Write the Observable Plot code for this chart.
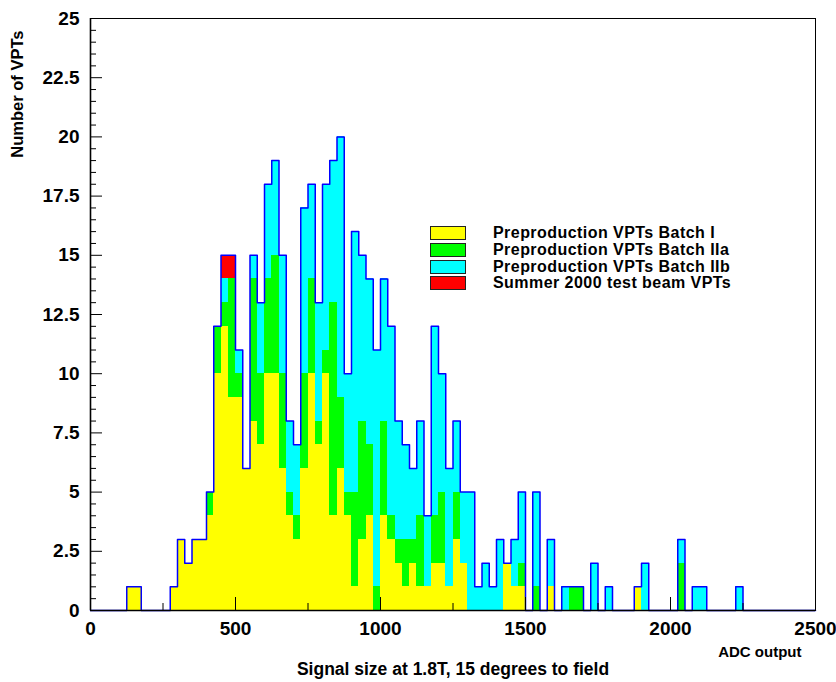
<!DOCTYPE html>
<html>
<head>
<meta charset="utf-8">
<script src="https://cdn.jsdelivr.net/npm/d3@7"></script>
<script src="https://cdn.jsdelivr.net/npm/@observablehq/plot@0.6"></script>
<style>
  body { margin: 0; background: #fff; }
  #chart { position: relative; width: 836px; height: 682px; font-family: "Liberation Sans", Arial, Helvetica, sans-serif; }
  #legend { position: absolute; left: 430px; top: 225px; }
  .row { display: flex; align-items: center; height: 16.7px; }
  .sw { width: 36px; height: 14px; box-sizing: border-box; border: 1px solid #222; }
  .lab { margin-left: 27px; font-weight: bold; font-size: 16px; letter-spacing: 0.45px; line-height: 16px; height: 16px; color: #000; white-space: nowrap; }
</style>
</head>
<body>
<div id="chart"><div id="legend"></div></div>
<script>
// Histogram binning: 100 bins of 25 ADC counts from 0 to 2500
const adcMin = 0;
const adcMax = 2500;
const binWidth = 25;

// Counts per bin for each VPT sample (stacked bottom to top)
const batchI = [
  0,0,0,0,0, 1,1,0,0,0, 0,1,3,2,3, 3,4,10,12,9,
  9,6,8,7,10, 10,6,4,3,6, 10,7,10,4,6, 4,1,3,4,0,
  4,3,2,1,2, 1,1,2,2,1, 3,2,0,0,0, 0,0,2,1,1,
  0,0,0,1,0, 0,0,0,0,0, 0,0,0,0,0, 1,0,0,0,0,
  0,0,0,0,0, 0,0,0,0,0, 0,0,0,0,0, 0,0,0,0,0
];
const batchIIa = [
  0,0,0,0,0, 0,0,0,0,0, 0,0,0,0,0, 0,1,2,1,5,
  1,0,6,3,4, 5,4,1,1,4, 4,1,1,9,3, 1,4,5,3,1,
  4,1,1,2,1, 3,0,2,3,0, 2,0,0,0,0, 0,0,0,0,1,
  0,1,0,0,0, 0,1,1,0,0, 0,0,0,0,0, 0,0,0,0,0,
  0,2,0,0,0, 0,0,0,0,0, 0,0,0,0,0, 0,0,0,0,0
];
const batchIIb = [
  0,0,0,0,0, 0,0,0,0,0, 0,0,0,0,0, 0,0,0,1,0,
  1,0,1,3,4, 4,5,3,3,7, 4,5,7,6,11, 5,11,7,7,10,
  6,8,5,4,3, 4,3,8,5,5, 3,3,5,1,2, 1,3,0,2,3,
  0,4,0,2,0, 1,0,0,0,2, 0,1,0,0,0, 0,2,0,0,0,
  0,1,0,1,1, 0,0,0,0,1, 0,0,0,0,0, 0,0,0,0,0
];
const summer2000 = [
  0,0,0,0,0, 0,0,0,0,0, 0,0,0,0,0, 0,0,0,1,1,
  0,0,0,0,0, 0,0,0,0,0, 0,0,0,0,0, 0,0,0,0,0,
  0,0,0,0,0, 0,0,0,0,0, 0,0,0,0,0, 0,0,0,0,0,
  0,0,0,0,0, 0,0,0,0,0, 0,0,0,0,0, 0,0,0,0,0,
  0,0,0,0,0, 0,0,0,0,0, 0,0,0,0,0, 0,0,0,0,0
];

const seriesNames = [
  "Preproduction VPTs Batch I",
  "Preproduction VPTs Batch IIa",
  "Preproduction VPTs Batch IIb",
  "Summer 2000 test beam VPTs"
];
const seriesColors = ["#ffff00", "#00ff00", "#00ffff", "#ff0000"];
const seriesCounts = [batchI, batchIIa, batchIIb, summer2000];

// Axis ticks and titles
const xMajorTicks = [0, 500, 1000, 1500, 2000, 2500];
const xMinorTicks = [250, 750, 1250, 1750, 2250];
const yMajorTicks = [0, 2.5, 5, 7.5, 10, 12.5, 15, 17.5, 20, 22.5, 25];
const yMinorTicks = d3.range(0, 25.01, 0.5).filter(v => !yMajorTicks.includes(v));
const xTitle = "Signal size at 1.8T, 15 degrees to field";
const xUnitLabel = "ADC output";
const yTitle = "Number of VPTs";

// Build stacked rectangles per bin
const binLow = batchI.map((_, i) => adcMin + i * binWidth);
const stacked = [];
const totals = [];
binLow.forEach((lo, i) => {
  let cum = 0;
  seriesCounts.forEach((counts, s) => {
    const v = counts[i];
    if (v > 0) stacked.push({x1: lo, x2: lo + binWidth, y1: cum, y2: cum + v, series: seriesNames[s]});
    cum += v;
  });
  totals.push(cum);
});

// Outline of the summed histogram (step curve)
const outline = binLow.map((lo, i) => ({x: lo, y: totals[i]}));
outline.push({x: adcMax, y: totals[totals.length - 1]});

const font = "Liberation Sans, Arial, Helvetica, sans-serif";

const plot = Plot.plot({
  width: 836,
  height: 682,
  marginLeft: 90,
  marginRight: 21,
  marginTop: 18,
  marginBottom: 72,
  style: {fontFamily: font, fontWeight: "bold", background: "#fff", overflow: "visible"},
  x: {domain: [adcMin, adcMax]},
  y: {domain: [0, 25]},
  color: {domain: seriesNames, range: seriesColors},
  marks: [
    Plot.rect(stacked, {x1: "x1", x2: "x2", y1: "y1", y2: "y2", fill: "series", shapeRendering: "crispEdges"}),
    Plot.line(outline, {x: "x", y: "y", curve: "step-after", stroke: "#0000ff", strokeWidth: 1.5}),
    Plot.frame({stroke: "#000", strokeWidth: 1}),
    Plot.ruleX([adcMin], {stroke: "#000", strokeWidth: 1.6}),
    Plot.ruleY([0], {stroke: "#000", strokeWidth: 1.6}),
    Plot.axisY(yMajorTicks, {tickSize: -12, tickPadding: 23, tickFormat: d => String(d), fontSize: 19, fontWeight: "bold", label: null}),
    Plot.axisY(yMinorTicks, {tickSize: -6, tickFormat: () => "", label: null}),
    Plot.axisX(xMajorTicks, {tickSize: -13, tickPadding: 24, tickFormat: d => String(d), fontSize: 19, fontWeight: "bold", label: null}),
    Plot.axisX(xMinorTicks, {tickSize: -7, tickFormat: () => "", label: null}),
    Plot.text([yTitle], {frameAnchor: "top-left", text: d => d, rotate: -90, textAnchor: "end", dx: -79, dy: 12, fontSize: 16.5, fontWeight: "bold", fill: "#000"}),
    Plot.text([xUnitLabel], {frameAnchor: "bottom-right", text: d => d, textAnchor: "end", dx: -14, dy: 46, fontSize: 15, fontWeight: "bold", fill: "#000"}),
    Plot.text([xTitle], {frameAnchor: "bottom", text: d => d, dy: 64, fontSize: 17.5, fontWeight: "bold", fill: "#000"})
  ]
});

const chart = document.getElementById("chart");
chart.insertBefore(plot, chart.firstChild);

// Legend box
const legend = document.getElementById("legend");
seriesNames.forEach((name, i) => {
  const row = document.createElement("div");
  row.className = "row";
  const sw = document.createElement("div");
  sw.className = "sw";
  sw.style.background = seriesColors[i];
  const lab = document.createElement("div");
  lab.className = "lab";
  lab.textContent = name;
  row.appendChild(sw);
  row.appendChild(lab);
  legend.appendChild(row);
});
</script>
</body>
</html>
